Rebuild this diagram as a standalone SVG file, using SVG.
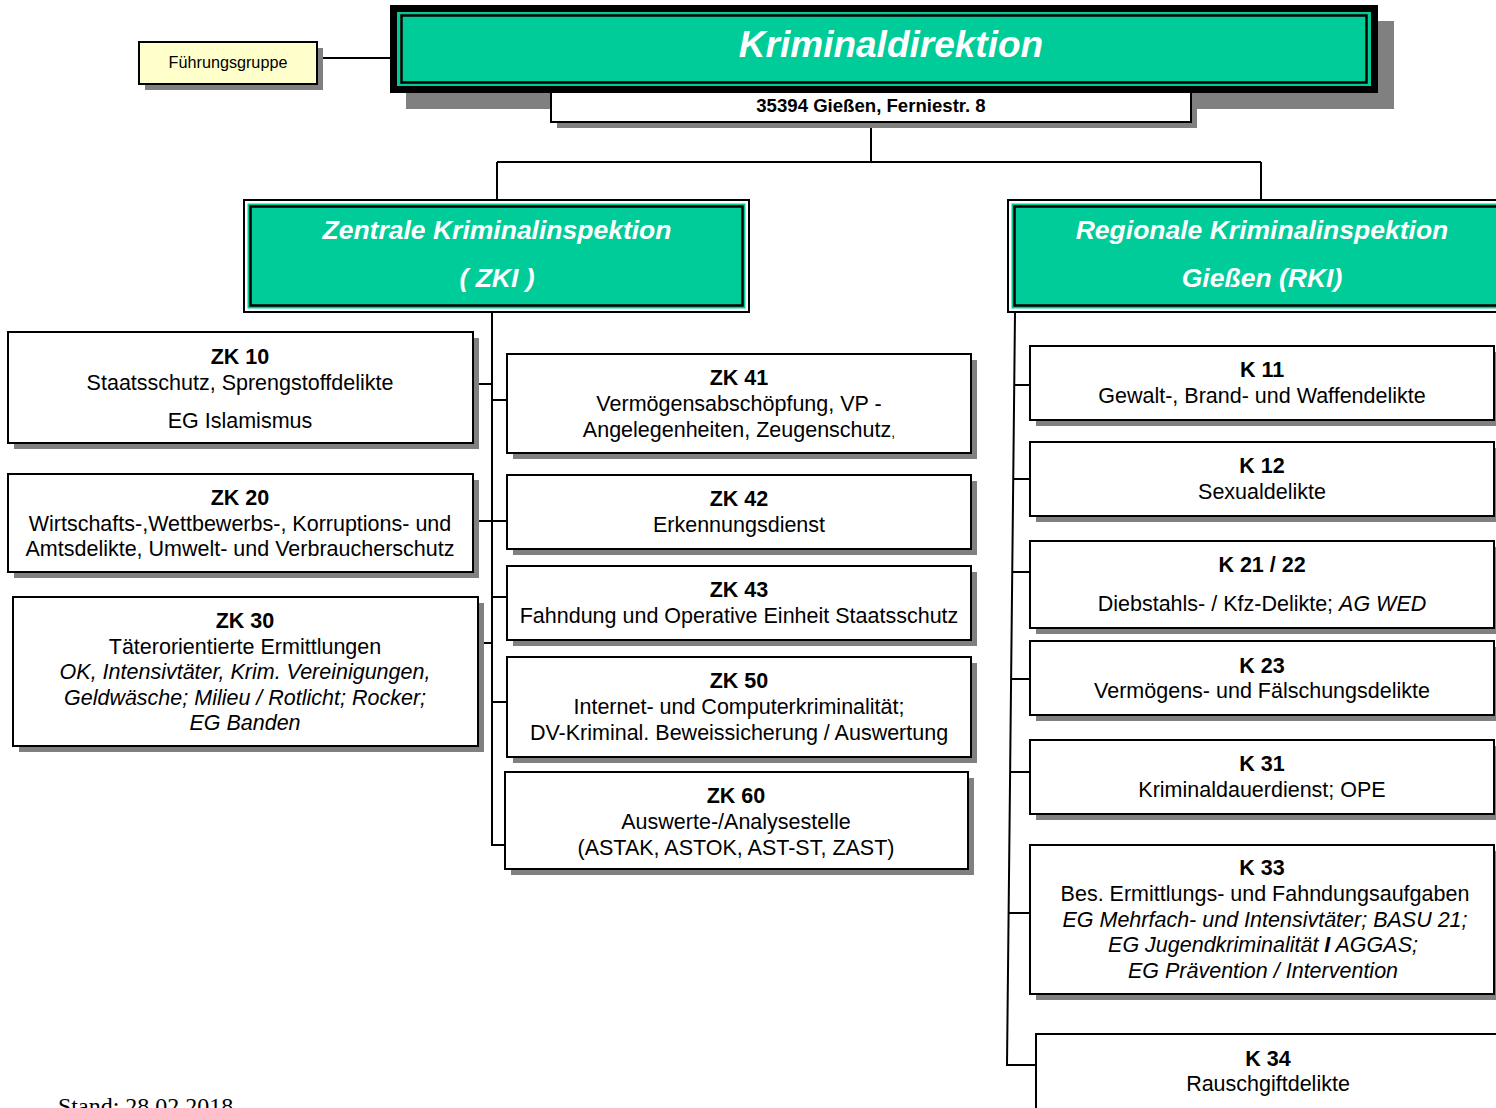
<svg xmlns="http://www.w3.org/2000/svg" width="1496" height="1108" viewBox="0 0 1496 1108">
<style>
.bg{fill:#fff}
.box{fill:#fff;stroke:#000;stroke-width:2}
.sh{fill:#808080}
.t{font-family:"Liberation Sans",Arial,sans-serif;font-size:21.5px;text-anchor:middle;fill:#000}
.b{font-weight:bold}
.i{font-style:italic}
.w{fill:#fff;font-weight:bold;font-style:italic}
.teal{fill:#00CC99}
.conn{stroke:#000;stroke-width:2;fill:none}
</style>
<rect class="bg" x="0" y="0" width="1496" height="1108"/>

<g id="connectors">
<path class="conn" d="M317 58 H392"/>
<path class="conn" d="M871 122 V162 M497 162 H1261 M497 162 V200 M1261 162 V200"/>
<path class="conn" d="M492 313 V845 H505"/>
<path class="conn" d="M473 384 H492 M492 400 H507 M473 521 H507 M492 597 H507 M478 643 H492 M492 702 H507"/>
<path class="conn" d="M1015 313 L1007 1065 H1036"/>
<path class="conn" d="M1014 385 H1030 M1013 479 H1030 M1012 572 H1030 M1011 679 H1030 M1010 772 H1030 M1009 913 H1030"/>
</g>

<g id="kriminaldirektion">
<rect class="sh" x="406" y="21" width="988" height="88"/>
<rect x="390" y="5" width="988" height="88" fill="#000"/>
<rect class="teal" x="397" y="12" width="974" height="74"/>
<rect x="401.5" y="15.5" width="965" height="67" fill="none" stroke="#000" stroke-width="2.5"/>
<text class="t w" x="891" y="57" style="font-size:37px">Kriminaldirektion</text>
</g>

<g id="adresse">
<rect class="sh" x="557" y="98" width="640" height="30"/>
<rect class="box" x="551" y="92" width="640" height="30"/>
<text class="t b" x="871" y="112" style="font-size:18.6px">35394 Gießen, Ferniestr. 8</text>
</g>

<g id="fuehrungsgruppe">
<rect class="sh" x="145" y="48" width="178" height="42"/>
<rect x="139" y="42" width="178" height="42" fill="#FFFFCC" stroke="#000" stroke-width="2"/>
<text class="t" x="228" y="68" style="font-size:16.2px">Führungsgruppe</text>
</g>

<g id="zki">
<rect x="244" y="200" width="505" height="112" fill="#fff" stroke="#000" stroke-width="2"/>
<rect class="teal" x="247.5" y="203.5" width="498" height="105"/>
<rect x="250.5" y="206.5" width="492" height="99" fill="none" stroke="#000" stroke-width="2.5"/>
<text class="t w" x="497" y="239" style="font-size:26.5px">Zentrale Kriminalinspektion</text>
<text class="t w" x="497" y="287" style="font-size:26.5px">( ZKI )</text>
</g>

<g id="rki">
<rect x="1008" y="200" width="510" height="112" fill="#fff" stroke="#000" stroke-width="2"/>
<rect class="teal" x="1011.5" y="203.5" width="503" height="105"/>
<rect x="1014.5" y="206.5" width="497" height="99" fill="none" stroke="#000" stroke-width="2.5"/>
<text class="t w" x="1262" y="239" style="font-size:26.5px">Regionale Kriminalinspektion</text>
<text class="t w" x="1262" y="287" style="font-size:26.5px">Gießen (RKI)</text>
</g>

<g id="zk10">
<rect class="sh" x="14" y="338" width="465" height="111"/>
<rect class="box" x="8" y="332" width="465" height="111"/>
<text class="t b" x="240" y="364">ZK 10</text>
<text class="t" x="240" y="390">Staatsschutz, Sprengstoffdelikte</text>
<text class="t" x="240" y="428">EG Islamismus</text>
</g>

<g id="zk20">
<rect class="sh" x="14" y="480" width="465" height="98"/>
<rect class="box" x="8" y="474" width="465" height="98"/>
<text class="t b" x="240" y="505">ZK 20</text>
<text class="t" x="240" y="531">Wirtschafts-,Wettbewerbs-, Korruptions- und</text>
<text class="t" x="240" y="556">Amtsdelikte, Umwelt- und Verbraucherschutz</text>
</g>

<g id="zk30">
<rect class="sh" x="19" y="603" width="465" height="149"/>
<rect class="box" x="13" y="597" width="465" height="149"/>
<text class="t b" x="245" y="628">ZK 30</text>
<text class="t" x="245" y="654">Täterorientierte Ermittlungen</text>
<text class="t i" x="245" y="679">OK, Intensivtäter, Krim. Vereinigungen,</text>
<text class="t i" x="245" y="705">Geldwäsche; Milieu / Rotlicht; Rocker;</text>
<text class="t i" x="245" y="730">EG Banden</text>
</g>

<g id="zk41">
<rect class="sh" x="513" y="360" width="464" height="99"/>
<rect class="box" x="507" y="354" width="464" height="99"/>
<text class="t b" x="739" y="385">ZK 41</text>
<text class="t" x="739" y="411">Vermögensabschöpfung, VP -</text>
<text class="t" x="739" y="437">Angelegenheiten, Zeugenschutz<tspan style="font-size:14px">,</tspan></text>
</g>

<g id="zk42">
<rect class="sh" x="513" y="481" width="464" height="74"/>
<rect class="box" x="507" y="475" width="464" height="74"/>
<text class="t b" x="739" y="506">ZK 42</text>
<text class="t" x="739" y="532">Erkennungsdienst</text>
</g>

<g id="zk43">
<rect class="sh" x="513" y="572" width="464" height="74"/>
<rect class="box" x="507" y="566" width="464" height="74"/>
<text class="t b" x="739" y="597">ZK 43</text>
<text class="t" x="739" y="623">Fahndung und Operative Einheit Staatsschutz</text>
</g>

<g id="zk50">
<rect class="sh" x="513" y="663" width="464" height="100"/>
<rect class="box" x="507" y="657" width="464" height="100"/>
<text class="t b" x="739" y="688">ZK 50</text>
<text class="t" x="739" y="714">Internet- und Computerkriminalität;</text>
<text class="t" x="739" y="740">DV-Kriminal. Beweissicherung / Auswertung</text>
</g>

<g id="zk60">
<rect class="sh" x="511" y="778" width="463" height="97"/>
<rect class="box" x="505" y="772" width="463" height="97"/>
<text class="t b" x="736" y="803">ZK 60</text>
<text class="t" x="736" y="829">Auswerte-/Analysestelle</text>
<text class="t" x="736" y="855">(ASTAK, ASTOK, AST-ST, ZAST)</text>
</g>

<g id="k11">
<rect class="sh" x="1036" y="352" width="464" height="74"/>
<rect class="box" x="1030" y="346" width="464" height="74"/>
<text class="t b" x="1262" y="377">K 11</text>
<text class="t" x="1262" y="403">Gewalt-, Brand- und Waffendelikte</text>
</g>

<g id="k12">
<rect class="sh" x="1036" y="448" width="464" height="74"/>
<rect class="box" x="1030" y="442" width="464" height="74"/>
<text class="t b" x="1262" y="473">K 12</text>
<text class="t" x="1262" y="499">Sexualdelikte</text>
</g>

<g id="k21-22">
<rect class="sh" x="1036" y="547" width="464" height="87"/>
<rect class="box" x="1030" y="541" width="464" height="87"/>
<text class="t b" x="1262" y="572">K 21 / 22</text>
<text class="t" x="1262" y="611">Diebstahls- / Kfz-Delikte; <tspan class="i">AG WED</tspan></text>
</g>

<g id="k23">
<rect class="sh" x="1036" y="647" width="464" height="74"/>
<rect class="box" x="1030" y="641" width="464" height="74"/>
<text class="t b" x="1262" y="673">K 23</text>
<text class="t" x="1262" y="698">Vermögens- und Fälschungsdelikte</text>
</g>

<g id="k31">
<rect class="sh" x="1036" y="746" width="464" height="74"/>
<rect class="box" x="1030" y="740" width="464" height="74"/>
<text class="t b" x="1262" y="771">K 31</text>
<text class="t" x="1262" y="797">Kriminaldauerdienst; OPE</text>
</g>

<g id="k33">
<rect class="sh" x="1036" y="851" width="464" height="149"/>
<rect class="box" x="1030" y="845" width="464" height="149"/>
<text class="t b" x="1262" y="875">K 33</text>
<text class="t" x="1265" y="901">Bes. Ermittlungs- und Fahndungsaufgaben</text>
<text class="t i" x="1265" y="927">EG Mehrfach- und Intensivtäter; BASU 21;</text>
<text class="t i" x="1263" y="952">EG Jugendkriminalität <tspan class="b">I</tspan> AGGAS;</text>
<text class="t i" x="1263" y="978">EG Prävention / Intervention</text>
</g>

<g id="k34">
<rect class="sh" x="1042" y="1040" width="464" height="80"/>
<rect class="box" x="1036" y="1034" width="464" height="80"/>
<text class="t b" x="1268" y="1066">K 34</text>
<text class="t" x="1268" y="1091">Rauschgiftdelikte</text>
</g>

<text x="58" y="1114" style="font-family:'Liberation Serif','Times New Roman',serif;font-size:24px;fill:#000">Stand: 28.02.2018</text>
</svg>
